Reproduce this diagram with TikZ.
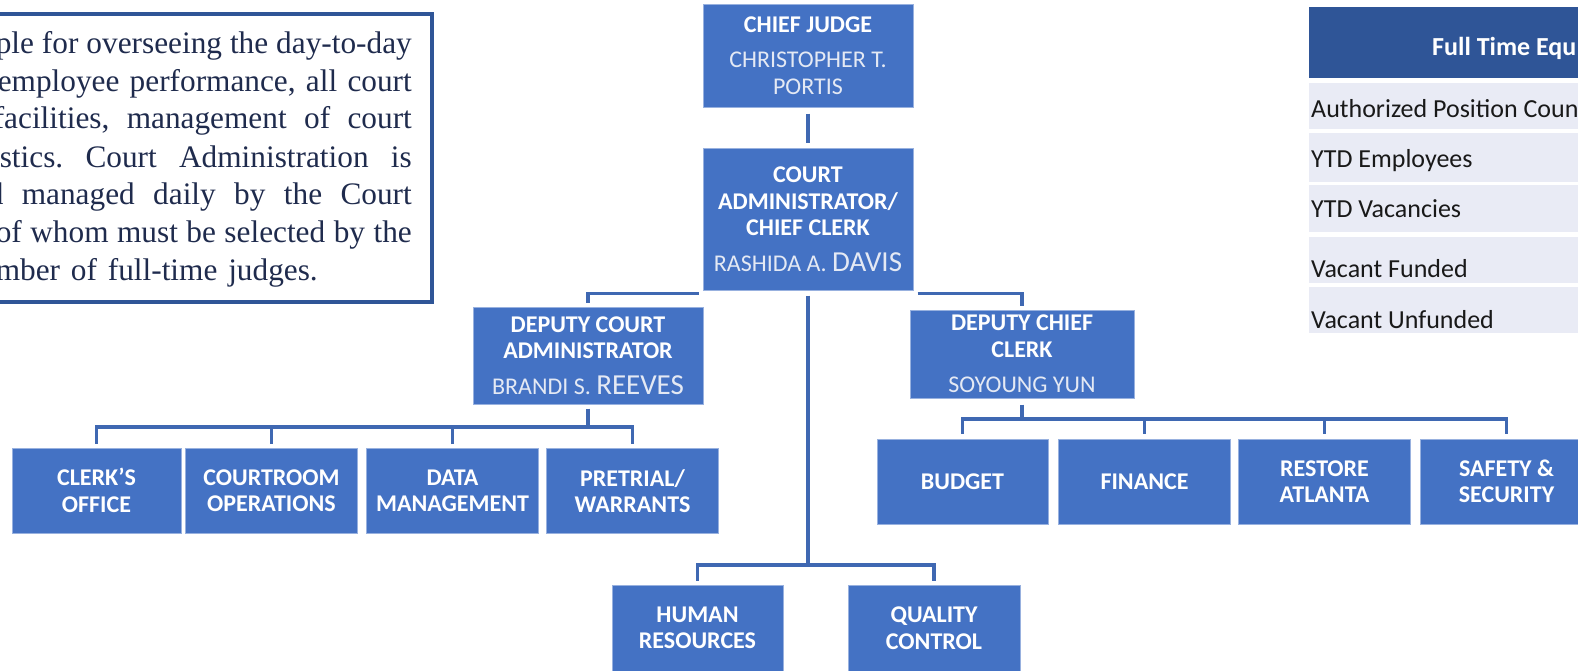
\documentclass[tikz,border=0pt]{standalone}
\usepackage{fontspec}
\setmainfont{Carlito}
\newfontfamily\notefont{Liberation Serif}
\usepackage{tikz}
\definecolor{boxblue}{HTML}{4472C4}
\definecolor{darkblue}{HTML}{2F5597}
\definecolor{linkblue}{HTML}{3F68B2}
\definecolor{namewhite}{HTML}{E4E9F4}
\definecolor{rowgrey}{HTML}{E9EBF5}
\definecolor{inkblue}{HTML}{1F2B4D}
\tikzset{
	% Two box styles for the chart: office boxes and unit boxes
	office box/.style={rectangle,draw=boxblue!55!white,line width=1pt,fill=boxblue,text=white,align=center,inner sep=0pt,font=\bfseries\fontsize{24}{26.5}\selectfont},
	unit box/.style={office box,minimum width=172pt,minimum height=85pt},
	link/.style={draw=linkblue,line width=3.5pt},
	note/.style={inner sep=0pt,text=inkblue,font=\notefont\frenchspacing\fontsize{31.3}{38}\selectfont},
	cell/.style={inner sep=0pt,anchor=base west,text=black!90,font=\fontsize{26}{30}\selectfont}
}
% names are set light and not bold, surnames sometimes larger
\newcommand{\nm}[1]{{\mdseries\color{namewhite}#1}}
\newcommand{\bignm}[1]{{\fontsize{29}{30}\selectfont #1}}

\begin{document}
\begin{tikzpicture}[x=1pt,y=-1pt]
			\useasboundingbox (0,0) rectangle (1578,670);
			% macro for one line of the note
			\newcommand{\noteline}[4][412]{\node(note-#2)[note,anchor=base east]at(#1,#3){\makebox[#4pt][s]{#2}};}
			
			% the note at the left
			\draw[darkblue,line width=4pt] (-10,14) rectangle (432,302);
			\noteline{ple for overseeing the day-to-day}{53}{416}
			\noteline{employee performance, all court}{91}{414}
			\noteline{facilities, management of court}{128}{418}
			\noteline{stics. Court Administration is}{167}{412}
			\noteline{d managed daily by the Court}{204}{424}
			\noteline{of whom must be selected by the}{242}{416}
			\noteline[318]{mber of full-time judges.}{280}{322}
			
			% the chart
			\node(0)[office box,minimum width=210pt,minimum height=103pt]at(808,55.5){CHIEF JUDGE\\[9pt]\nm{CHRISTOPHER T.}\\\nm{PORTIS}};
			\node(0-1)[office box,minimum width=210pt,minimum height=142pt]at(808,219){COURT\\ADMINISTRATOR/\\CHIEF CLERK\\[9pt]\nm{RASHIDA A. \bignm{DAVIS}}};
			\node(0-1-1)[office box,minimum width=230pt,minimum height=97pt]at(588,355.5){DEPUTY COURT\\ADMINISTRATOR\\[9pt]\nm{BRANDI S. \bignm{REEVES}}};
			\node(0-1-2)[office box,minimum width=224pt,minimum height=88pt]at(1022,354){DEPUTY CHIEF\\CLERK\\[9pt]\nm{SOYOUNG YUN}};
			
			\node(0-1-1-1)[unit box,minimum width=169pt]at(96.5,490.5){CLERK’S\\OFFICE};
			\node(0-1-1-2)[unit box]at(271.5,490.5){COURTROOM\\OPERATIONS};
			\node(0-1-1-3)[unit box]at(452.5,491){DATA\\MANAGEMENT};
			\node(0-1-1-4)[unit box]at(632.5,491){PRETRIAL/\\WARRANTS};
			
			\node(0-1-2-1)[unit box,minimum width=171pt]at(962.5,481.5){BUDGET};
			\node(0-1-2-2)[unit box]at(1144.5,481.5){FINANCE};
			\node(0-1-2-3)[unit box]at(1324.5,481.5){RESTORE\\ATLANTA};
			\node(0-1-2-4)[unit box]at(1506.5,481.5){SAFETY \&\\SECURITY};
			
			\node(0-1-3)[unit box,minimum width=171pt,minimum height=86pt]at(697.5,628){HUMAN\\RESOURCES};
			\node(0-1-4)[unit box,minimum height=86pt]at(934,628){QUALITY\\CONTROL};
			
			\coordinate(hub) at (808,565);
			\coordinate(left hub) at (588,427);
			\coordinate(right hub) at (1022,419);
			
			\draw[link] ([yshift=-6pt]0.south) -- ([yshift=5pt]0-1.north);
			\draw[link] ([xshift=-4pt,yshift=-3pt]0-1.south west) -| ([yshift=4pt]0-1-1.north);
			\draw[link] ([xshift=4pt,yshift=-3pt]0-1.south east) -| ([yshift=4pt]0-1-2.north);
			\draw[link] ([yshift=-5pt]0-1.south) -- (hub);
			\draw[link] ([yshift=4pt]0-1-3.north) |- (hub) -| ([yshift=4pt]0-1-4.north);
			
			\draw[link] ([yshift=-4pt]0-1-1.south) -- (left hub);
			\draw[link] ([yshift=4pt]0-1-1-1.north) |- (left hub) -| ([yshift=4pt]0-1-1-4.north);
			\draw[link] ([yshift=4pt]0-1-1-2.north) -- (0-1-1-2.north |- left hub);
			\draw[link] ([yshift=4pt]0-1-1-3.north) -- (0-1-1-3.north |- left hub);
			
			\draw[link] ([yshift=-6pt]0-1-2.south) -- (right hub);
			\draw[link] ([yshift=5pt]0-1-2-1.north) |- (right hub) -| ([yshift=5pt]0-1-2-4.north);
			\draw[link] ([yshift=5pt]0-1-2-2.north) -- (0-1-2-2.north |- right hub);
			\draw[link] ([yshift=5pt]0-1-2-3.north) -- (0-1-2-3.north |- right hub);
			
			% the table at the right
			\fill[darkblue] (1309,7) rectangle (1590,78);
			\foreach \top/\bot in {83/129,133/182,185/232,237/283,287/333}
				\fill[rowgrey] (1309,\top) rectangle (1590,\bot);
			\node(fte)[cell,text=white,font=\bfseries\fontsize{26}{30}\selectfont]at(1432,55){Full Time Equ};
			\node(row-1)[cell]at(1311,117){Authorized Position Coun};
			\node(row-2)[cell]at(1311,167){YTD Employees};
			\node(row-3)[cell]at(1311,217){YTD Vacancies};
			\node(row-4)[cell]at(1311,277){Vacant Funded};
			\node(row-5)[cell]at(1311,328){Vacant Unfunded};
		\end{tikzpicture}
\end{document}
